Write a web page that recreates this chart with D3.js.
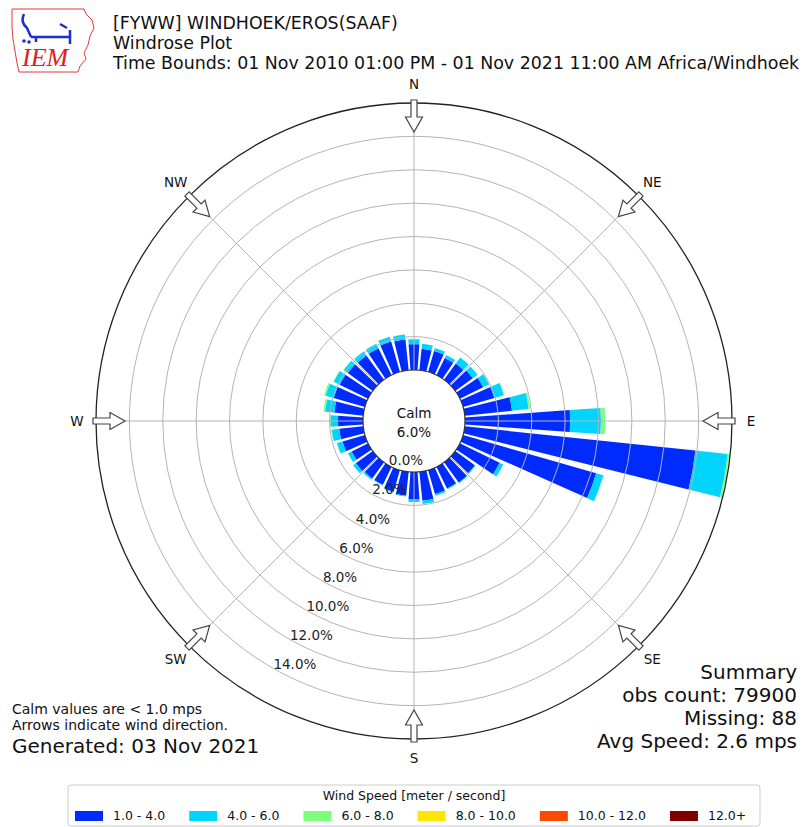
<!DOCTYPE html>
<html>
<head>
<meta charset="utf-8">
<script src="https://cdn.jsdelivr.net/npm/d3@7"></script>
<style>
  body { margin: 0; background: #fff; }
  svg { display: block; }
  text { font-family: 'DejaVu Sans', sans-serif; fill: #111; }
</style>
</head>
<body>
<div id="chart"></div>
<script>
const directions = [0, 10, 20, 30, 40, 50, 60, 70, 80, 90, 100, 110, 120, 130, 140, 150, 160, 170,
                    180, 190, 200, 210, 220, 230, 240, 250, 260, 270, 280, 290, 300, 310, 320, 330, 340, 350];

const pct1to4 = [1.55, 1.3, 1.3, 1.15, 1.2, 1.3, 1.55, 1.95, 2.85, 6.3, 13.9, 8.3, 2.65, 1.45, 1.5, 1.45, 1.5, 1.75,
                 1.65, 1.45, 1.35, 1.2, 1.2, 1.25, 1.1, 1.4, 1.45, 1.5, 1.75, 1.95, 1.9, 1.85, 1.8, 1.8, 1.9, 1.85];
const pct4to6 = [0.3, 0.3, 0.2, 0.2, 0.45, 0.35, 0.4, 0.6, 1.0, 1.85, 1.95, 0.45, 0.25, 0.05, 0.05, 0.05, 0.1, 0.2,
                 0.15, 0.05, 0.05, 0.05, 0.1, 0.2, 0.25, 0.35, 0.45, 0.45, 0.55, 0.5, 0.4, 0.3, 0.3, 0.3, 0.3, 0.3];
const pct6to8 = [0.02, 0, 0, 0, 0.02, 0, 0.02, 0.03, 0.1, 0.25, 0.1, 0.02, 0, 0, 0, 0, 0, 0,
                 0, 0, 0, 0, 0, 0, 0, 0.02, 0.03, 0.05, 0.1, 0.1, 0.03, 0.02, 0, 0, 0, 0];
const pct8to10 = [0, 0, 0, 0, 0, 0, 0, 0, 0, 0, 0, 0, 0, 0, 0, 0, 0, 0,
                  0, 0, 0, 0, 0, 0, 0, 0, 0, 0, 0, 0, 0, 0, 0, 0, 0, 0];
const pct10to12 = [0, 0, 0, 0, 0, 0, 0, 0, 0, 0, 0, 0, 0, 0, 0, 0, 0, 0,
                   0, 0, 0, 0, 0, 0, 0, 0, 0, 0, 0, 0, 0, 0, 0, 0, 0, 0];
const pct12plus = [0, 0, 0, 0, 0, 0, 0, 0, 0, 0, 0, 0, 0, 0, 0, 0, 0, 0,
                   0, 0, 0, 0, 0, 0, 0, 0, 0, 0, 0, 0, 0, 0, 0, 0, 0, 0];

const speedLabels = ['1.0 - 4.0', '4.0 - 6.0', '6.0 - 8.0', '8.0 - 10.0', '10.0 - 12.0', '12.0+'];
const speedColors = ['#002bff', '#00d4ff', '#7bff7b', '#ffe600', '#ff4800', '#800000'];

const radialTicks = [0, 2, 4, 6, 8, 10, 12, 14];
const compassLabels = ['N', 'NE', 'E', 'SE', 'S', 'SW', 'W', 'NW'];
const compassAngles = [0, 45, 90, 135, 180, 225, 270, 315];
const calmPct = 6.0;

const titleLines = [
    '[FYWW] WINDHOEK/EROS(SAAF)',
    'Windrose Plot',
    'Time Bounds: 01 Nov 2010 01:00 PM - 01 Nov 2021 11:00 AM Africa/Windhoek'
];
const noteLines = ['Calm values are < 1.0 mps', 'Arrows indicate wind direction.'];
const generatedText = 'Generated: 03 Nov 2021';
const summaryLines = ['Summary', 'obs count: 79900', 'Missing: 88', 'Avg Speed: 2.6 mps'];
const legendTitle = 'Wind Speed [meter / second]';

// --- Layout ---
const width = 802, height = 827;
const cx = 414, cy = 421;
const rCalm = 51, rOuter = 318;
const rMax = 16;
const deg = Math.PI / 180;

const svg = d3.select('#chart').append('svg')
    .attr('width', width)
    .attr('height', height)
    .style('background', '#fff');

// Radial scale: calm circle is the 0% ring
const r = d3.scaleLinear().domain([0, rMax]).range([rCalm, rOuter]);

// Stack the speed bins per direction
const keys = ['s0', 's1', 's2', 's3', 's4', 's5'];
const series = [pct1to4, pct4to6, pct6to8, pct8to10, pct10to12, pct12plus];
const rows = directions.map((d, i) => {
    const row = { dir: d };
    keys.forEach((k, j) => row[k] = series[j][i]);
    return row;
});
const stacked = d3.stack().keys(keys)(rows);

const color = d3.scaleOrdinal().domain(keys).range(speedColors);

const g = svg.append('g').attr('transform', `translate(${cx},${cy})`);

// Bars (8 degree wide out of each 10 degree bin)
const halfWidth = 4 * deg;
const arc = d3.arc();

g.append('g')
    .selectAll('g')
    .data(stacked)
    .join('g')
    .attr('fill', s => color(s.key))
    .selectAll('path')
    .data(s => s.filter(p => p[1] - p[0] > 0))
    .join('path')
    .attr('d', p => arc({
        innerRadius: r(p[0]),
        outerRadius: r(p[1]),
        startAngle: p.data.dir * deg - halfWidth,
        endAngle: p.data.dir * deg + halfWidth
    }));

// Grid rings (drawn on top of bars, as in the original)
g.append('g')
    .selectAll('circle')
    .data(radialTicks.filter(t => t > 0))
    .join('circle')
    .attr('r', d => r(d))
    .attr('fill', 'none')
    .attr('stroke', '#b4b4b4')
    .attr('stroke-width', 1);

// Spokes every 45 degrees
g.append('g')
    .selectAll('line')
    .data(compassAngles)
    .join('line')
    .attr('x1', a => Math.sin(a * deg) * rCalm)
    .attr('y1', a => -Math.cos(a * deg) * rCalm)
    .attr('x2', a => Math.sin(a * deg) * rOuter)
    .attr('y2', a => -Math.cos(a * deg) * rOuter)
    .attr('stroke', '#b4b4b4')
    .attr('stroke-width', 1);

// Outer frame
g.append('circle')
    .attr('r', r(rMax))
    .attr('fill', 'none')
    .attr('stroke', '#222')
    .attr('stroke-width', 1.3);

// Calm circle
g.append('circle')
    .attr('r', r(0))
    .attr('fill', '#fff')
    .attr('stroke', '#333')
    .attr('stroke-width', 1.2);

g.append('text')
    .attr('text-anchor', 'middle')
    .attr('y', -3)
    .style('font-size', '13.5px')
    .text('Calm');
g.append('text')
    .attr('text-anchor', 'middle')
    .attr('y', 16)
    .style('font-size', '13.5px')
    .text(`${calmPct.toFixed(1)}%`);

// Radial tick labels along a fixed bearing
const labelAngle = 209.6 * deg;
g.append('g')
    .selectAll('text')
    .data(radialTicks)
    .join('text')
    .attr('x', d => Math.sin(labelAngle) * r(d))
    .attr('y', d => -Math.cos(labelAngle) * r(d) - 4.6)
    .attr('dy', '0.35em')
    .style('font-size', '13.5px')
    .style('fill', '#222')
    .text(d => `${d.toFixed(1)}%`);

// Wind direction arrows at the rim, pointing inward
const arrowPath = 'M-3,-321 L3,-321 L3,-304 L8.5,-304 L0,-289 L-8.5,-304 L-3,-304 Z';
g.append('g')
    .selectAll('path')
    .data(compassAngles)
    .join('path')
    .attr('d', arrowPath)
    .attr('transform', a => `rotate(${a})`)
    .attr('fill', '#fff')
    .attr('stroke', '#444')
    .attr('stroke-width', 1.2);

// Compass labels
g.append('g')
    .selectAll('text')
    .data(compassAngles)
    .join('text')
    .attr('x', a => Math.sin(a * deg) * 337)
    .attr('y', a => -Math.cos(a * deg) * 337)
    .attr('dy', '0.35em')
    .attr('text-anchor', 'middle')
    .style('font-size', '13.5px')
    .text((a, i) => compassLabels[i]);

// --- Header ---
svg.append('g')
    .selectAll('text')
    .data(titleLines)
    .join('text')
    .attr('x', 113)
    .attr('y', (d, i) => 29 + i * 20)
    .style('font-size', '17.4px')
    .text(d => d);

// IEM logo (rough sketch)
const logo = svg.append('g');
logo.append('path')
    .attr('d', 'M12,9 L84,9 L86,14 L92,20 L94,28 L90,36 L88,45 L84,53 L86,59 L80,66 L78,72 L19,72 L17,63 L15,51 L13,39 L12,27 Z')
    .attr('fill', 'none')
    .attr('stroke', '#e23a3a')
    .attr('stroke-width', 1);
logo.append('path')
    .attr('d', 'M24,14 Q20,22 27,28 L31,37 M31,37 L70,37 M70,30 L70,44 M60,24 L67,28 M36,37 L36,42')
    .attr('fill', 'none')
    .attr('stroke', '#1a2fd0')
    .attr('stroke-width', 2.5);
logo.append('circle').attr('cx', 24).attr('cy', 41).attr('r', 1.8).attr('fill', '#1a2fd0');
logo.append('circle').attr('cx', 29).attr('cy', 42).attr('r', 1.8).attr('fill', '#1a2fd0');
logo.append('text')
    .attr('x', 22)
    .attr('y', 66)
    .style('font-family', "'Liberation Serif', serif")
    .style('font-style', 'italic')
    .style('font-size', '26px')
    .style('fill', '#e02020')
    .text('IEM');

// --- Bottom left notes ---
svg.append('g')
    .selectAll('text')
    .data(noteLines)
    .join('text')
    .attr('x', 12)
    .attr('y', (d, i) => 714 + i * 16)
    .style('font-size', '14px')
    .text(d => d);
svg.append('text')
    .attr('x', 12)
    .attr('y', 753)
    .style('font-size', '20px')
    .text(generatedText);

// --- Summary (right aligned) ---
svg.append('g')
    .selectAll('text')
    .data(summaryLines)
    .join('text')
    .attr('x', 797)
    .attr('y', (d, i) => 679 + i * 23)
    .attr('text-anchor', 'end')
    .style('font-size', '20px')
    .text(d => d);

// --- Legend ---
const legend = svg.append('g');
legend.append('rect')
    .attr('x', 68).attr('y', 785)
    .attr('width', 692).attr('height', 41)
    .attr('rx', 3)
    .attr('fill', '#fff')
    .attr('stroke', '#cccccc');
legend.append('text')
    .attr('x', 414).attr('y', 800)
    .attr('text-anchor', 'middle')
    .style('font-size', '12.5px')
    .text(legendTitle);

let lx = 75;
speedLabels.forEach((lab, i) => {
    legend.append('rect')
        .attr('x', lx).attr('y', 811)
        .attr('width', 28).attr('height', 10)
        .attr('fill', speedColors[i]);
    const t = legend.append('text')
        .attr('x', lx + 38).attr('y', 820)
        .style('font-size', '12.5px')
        .text(lab);
    lx += 38 + t.node().getComputedTextLength() + 24;
});
</script>
</body>
</html>
